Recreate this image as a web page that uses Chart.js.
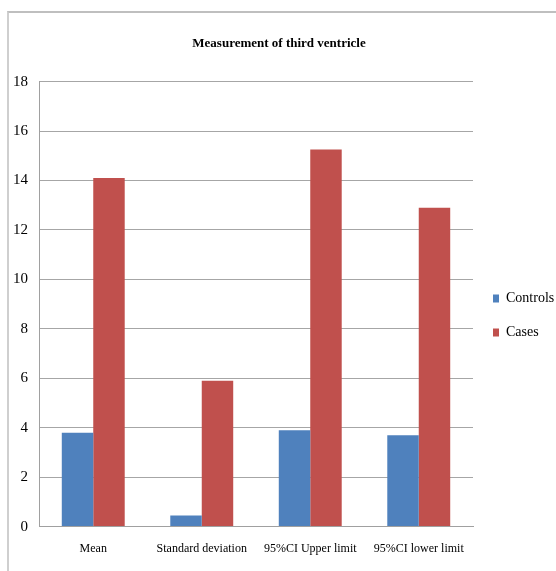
<!DOCTYPE html>
<html>
<head>
<meta charset="utf-8">
<script src="https://cdn.jsdelivr.net/npm/chart.js@4.4.1/dist/chart.umd.min.js"></script>
<style>
  html, body { margin: 0; padding: 0; background: #fff; }
  #wrap { position: relative; width: 556px; height: 571px; }
  #frame { position: absolute; left: 7px; top: 11px; right: 0; bottom: 0;
           border-left: 2px solid #cfcfcf; border-top: 2px solid #bfbfbf; pointer-events: none; }
  canvas { position: absolute; left: 0; top: 0; }
</style>
</head>
<body>
<div id="wrap">
  <canvas id="chart" width="556" height="571"></canvas>
  <div id="frame"></div>
</div>
<script>
// Chart data
const categories = ['Mean', 'Standard deviation', '95%CI Upper limit', '95%CI lower limit'];
const controlsValues = [3.8, 0.45, 3.9, 3.7];
const casesValues = [14.1, 5.9, 15.25, 12.9];
const yTicks = [0, 2, 4, 6, 8, 10, 12, 14, 16, 18];

const serif = '"Liberation Serif", "Times New Roman", serif';

const ctx = document.getElementById('chart').getContext('2d');
const chart = new Chart(ctx, {
    type: 'bar',
    data: {
        labels: categories,
        datasets: [{
            label: 'Controls',
            data: controlsValues,
            backgroundColor: '#4F81BD'
        }, {
            label: 'Cases',
            data: casesValues,
            backgroundColor: '#C0504D'
        }]
    },
    options: {
        responsive: false,
        animation: false,
        layout: {
            padding: { top: 12, left: 2, right: 0, bottom: 0 }
        },
        datasets: {
            bar: { categoryPercentage: 0.58, barPercentage: 1.0 }
        },
        scales: {
            x: {
                grid: { display: false, drawTicks: false },
                border: { color: '#a0a0a0', width: 1 },
                ticks: {
                    color: '#000',
                    padding: 15,
                    maxRotation: 0,
                    autoSkip: false,
                    font: { family: serif, size: 12 }
                }
            },
            y: {
                min: 0,
                max: 18,
                afterBuildTicks: function (axis) {
                    axis.ticks = yTicks.map(v => ({ value: v }));
                },
                grid: { color: '#a6a6a6', lineWidth: 1, drawTicks: false },
                border: { color: '#a0a0a0', width: 1 },
                ticks: {
                    color: '#000',
                    padding: 11,
                    font: { family: serif, size: 15 }
                }
            }
        },
        plugins: {
            title: {
                display: true,
                text: 'Measurement of third ventricle',
                color: '#000',
                font: { family: serif, size: 13, weight: 'bold' },
                padding: { top: 24, bottom: 30 }
            },
            legend: {
                position: 'right',
                maxWidth: 83,
                // empty title only pushes the legend items down a bit
                title: {
                    display: true,
                    text: '',
                    font: { size: 10 },
                    padding: { top: 0, bottom: 36 }
                },
                labels: {
                    color: '#000',
                    boxWidth: 6,
                    boxHeight: 8,
                    padding: 20,
                    font: { family: serif, size: 14 }
                }
            },
            tooltip: { enabled: false }
        }
    }
});
</script>
</body>
</html>
